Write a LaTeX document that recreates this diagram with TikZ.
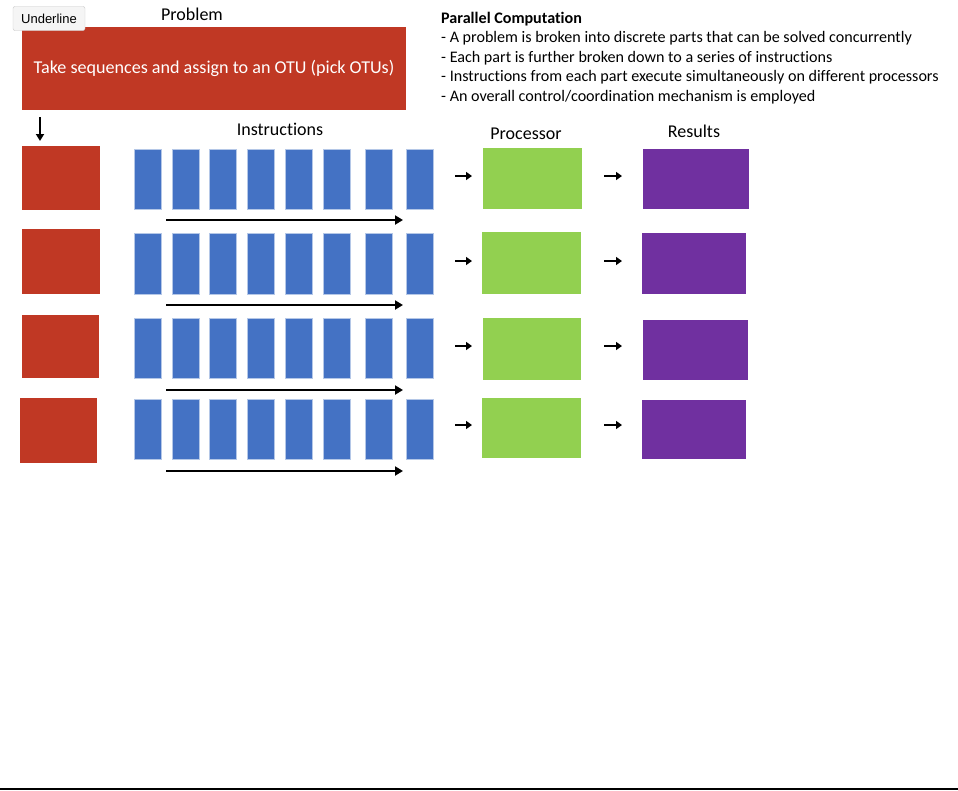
\documentclass[tikz,border=0pt]{standalone}
\usepackage{fontspec}
\setmainfont{Carlito}[Ligatures=NoCommon]
\newfontfamily\btnfont{Liberation Sans}
\usetikzlibrary{arrows.meta}
\definecolor{probred}{RGB}{192,56,36}
\definecolor{instblue}{RGB}{68,114,196}
\definecolor{procgreen}{RGB}{146,208,80}
\definecolor{respurple}{RGB}{112,48,160}
\tikzset{
  box/.style={inner sep=0pt, outer sep=0pt},
  redbox/.style={box, fill=probred},
  bluebox/.style={box, fill=instblue, draw=instblue!40, line width=0.6pt, minimum width=27pt},
  greenbox/.style={box, fill=procgreen},
  purplebox/.style={box, fill=respurple},
  hdr/.style={font=\fontsize{18}{21}\selectfont, inner sep=0pt},
  para/.style={font=\fontsize{16.1}{19}\selectfont, inner sep=0pt, anchor=base west},
  longarrow/.style={line width=2.4pt, -{Triangle[length=8pt,width=9pt]}},
  smallarrow/.style={line width=2.4pt, -{Triangle[length=6pt,width=8pt]}},
  downarrow/.style={line width=2pt, -{Triangle[length=7pt,width=8pt]}},
}
\begin{document}
\begin{tikzpicture}[x=1pt,y=-1pt]
\useasboundingbox (0,0) rectangle (958,790);
% headers
\node[hdr] (hprob) at (192,14) {Problem};
\node[hdr] (hinst) at (280,129) {Instructions};
\node[hdr] (hproc) at (526,134) {Processor};
\node[hdr] (hres) at (694,131) {Results};
% problem box
\node[redbox, minimum width=384pt, minimum height=83pt, text=white,
      font=\fontsize{18.1}{21}\selectfont] (prob) at (214,68.5) {Take sequences and assign to an OTU (pick OTUs)};
% button (on top of the box)
\node[box, draw=gray!45, fill=gray!8, rounded corners=2pt, minimum width=72pt, minimum height=24pt,
      font=\btnfont\fontsize{13}{15}\selectfont] (btn) at (49,18.5) {Underline};
% text block
\node[para, font=\bfseries\fontsize{16.1}{19}\selectfont] (t0) at (441,23) {Parallel Computation};
\node[para] (t1) at (441,42.5) {- A problem is broken into discrete parts that can be solved concurrently};
\node[para] (t2) at (441,62) {- Each part is further broken down to a series of instructions};
\node[para] (t3) at (441,81.5) {- Instructions from each part execute simultaneously on different processors};
\node[para] (t4) at (441,101) {- An overall control/coordination mechanism is employed};
% down arrow
\coordinate (dA) at (40,117);
\coordinate (dB) at (40,141);
\draw[downarrow] (dA) -- (dB);
% rows
\foreach \i/\rx/\ry/\rw/\rh/\by/\bh/\ay/\sy/\gx/\gy/\gw/\gh/\px/\py/\pw/\ph in {
  1/61/178/78/64/179/60/220/176/532.5/178.5/99/61/696/179/106/60,
  2/61/261.5/78/65/263.5/61/305/261/531.5/263/99/62/694/263.5/104/61,
  3/60.5/346.5/77/63/348/60/390/346/532/349/98/62/695.5/350/105/60,
  4/58.5/430.5/77/65/429/60/471/425/531.5/428/99/60/694/429.5/104/59}{
  \node[redbox, minimum width=\rw pt, minimum height=\rh pt] (red\i) at (\rx,\ry) {};
  \foreach \j/\bx in {1/148,2/185.5,3/222.5,4/261,5/298.5,6/337,7/378.5,8/419.5}{
    \node[bluebox, minimum height=\bh pt] (blue\i-\j) at (\bx,\by) {};
  }
  \coordinate (la\i) at (166,\ay);
  \coordinate (lb\i) at (403,\ay);
  \draw[longarrow] (la\i) -- (lb\i);
  \node[greenbox, minimum width=\gw pt, minimum height=\gh pt] (green\i) at (\gx,\gy) {};
  \node[purplebox, minimum width=\pw pt, minimum height=\ph pt] (purple\i) at (\px,\py) {};
  \coordinate (sa\i) at (455,\sy);
  \coordinate (sb\i) at (472,\sy);
  \coordinate (sc\i) at (604,\sy);
  \coordinate (sd\i) at (622,\sy);
  \draw[smallarrow] (sa\i) -- (sb\i);
  \draw[smallarrow] (sc\i) -- (sd\i);
}
% bottom rule
\coordinate (bl) at (0,789);
\coordinate (br) at (958,789);
\draw[line width=2pt] (bl) -- (br);
\end{tikzpicture}
\end{document}
